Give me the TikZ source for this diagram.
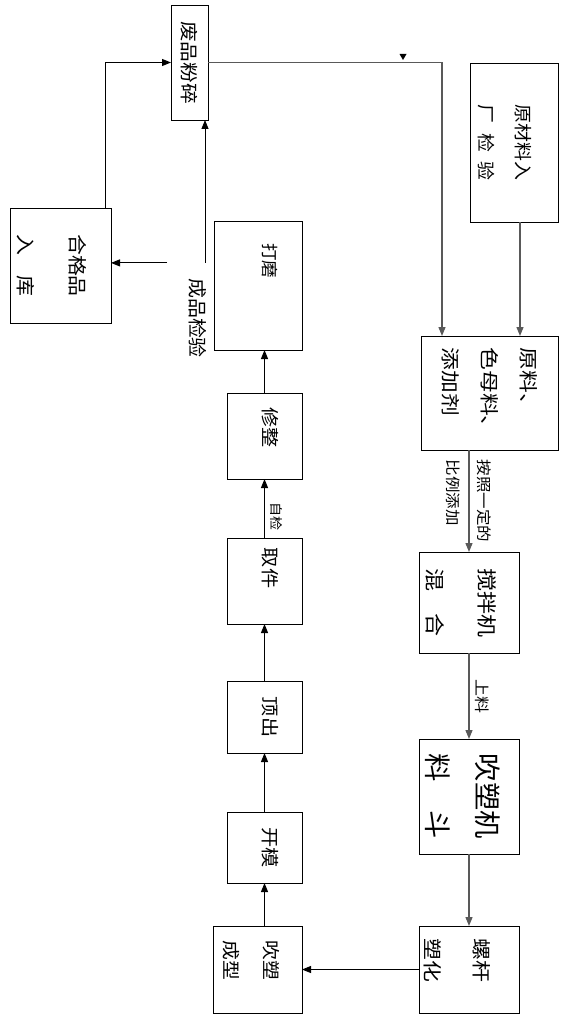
\documentclass[tikz,border=0pt]{standalone}
\usepackage{fontspec}
\usepackage{graphicx}
\usetikzlibrary{positioning,arrows.meta}
\newfontfamily\cjk{Noto Sans CJK SC}
\newcommand{\fs}[2]{\fontsize{#1}{#2}\selectfont}
\newcommand{\vtext}[2][1.1]{\rotatebox{-90}{\scalebox{#1}[1]{\vbox{#2}}}}

\begin{document}
\begin{tikzpicture}[
x=1pt,y=-1pt,
box/.style={rectangle,draw,line width=0.9pt,inner sep=0pt,outer sep=0pt,font=\cjk\fs{18}{24}},
note/.style={inner sep=0pt,font=\cjk\fs{15}{31}},
arrow/.style={-{Triangle[length=9pt,width=7pt]},line width=0.9pt},
feed/.style={arrow,draw=black!65,line width=1.3pt}
]
\useasboundingbox (0,0) rectangle (575,1019);

% left column, from the bottom up
\node[box,minimum width=89pt,minimum height=87pt,font=\cjk\fs{18}{40}] (chuisu) at (257.5,969.5)
  {\vtext{\kern12pt\hbox to 53pt{吹塑\hfil}\hbox{成型}}};
\node[box,minimum width=75pt,minimum height=71pt,above=43pt of chuisu.north east,anchor=south east] (kaimo)
  {\vtext[1.12]{\hbox{开模}\kern11pt}};
\node[box,minimum width=75pt,minimum height=72pt,above=59pt of kaimo.north east,anchor=south east] (dingchu)
  {\vtext[1.12]{\hbox{顶出}\kern11pt}};
\node[box,minimum width=75pt,minimum height=86pt,above=57pt of dingchu.north east,anchor=south east] (qujian)
  {\vtext[1.12]{\hbox to 59pt{取件\hfil}\kern11pt}};
\node[box,minimum width=75pt,minimum height=86pt,above=59pt of qujian.north east,anchor=south east] (xiuzheng)
  {\vtext[1.12]{\hbox to 51pt{修整\hfil}\kern11pt}};
\node[box,minimum width=88pt,minimum height=129pt,font=\cjk\fs{17}{24},above=43pt of xiuzheng.north east,anchor=south east] (damo)
  {\vtext[1.03]{\hbox to 82pt{打磨\hfil}\kern24pt}};

% top left
\node[box,minimum width=37pt,minimum height=115pt] (feipin) at (189.5,62.5) {\vtext[1.15]{\hbox{废品粉碎}}};
\node[box,minimum width=101pt,minimum height=115pt,font=\cjk\fs{19}{52}] (hege) at (60.5,265.5)
  {\vtext{\kern17pt\hbox{合格品}\hbox to 3em{入\hfil 库}}};
\node[note,font=\cjk\fs{19}{24}] (jianyan) at (198,318) {\vtext[1.05]{\hbox{成品检验}}};

% right column
\node[box,minimum width=88pt,minimum height=159pt,font=\cjk\fs{18}{37}] (yuancai) at (514,142.5)
  {\vtext[1.05]{\kern18pt\hbox{原材料入}\hbox to 4em{厂\hfil 检\hfil 验}}};
\node[box,minimum width=137pt,minimum height=114pt,font=\cjk\fs{19}{39},below=114pt of yuancai.south east,anchor=north east] (yuanliao)
  {\vtext[1.2]{\hbox{原料、}\hbox{色母料、}\hbox{添加剂}}};
\node[box,minimum width=100pt,minimum height=101pt,font=\cjk\fs{20}{52},below=102pt of yuanliao.south west,anchor=north west,xshift=-2pt] (jiaoban)
  {\vtext[1.15]{\kern16pt\hbox{搅拌机}\hbox to 3em{混\hfil 合}}};
\node[box,minimum width=100pt,minimum height=115pt,font=\cjk\fs{27}{50},below=86pt of jiaoban.south west,anchor=north west] (liaodou)
  {\vtext[1.05]{\kern12pt\hbox{吹塑机}\hbox to 3em{料\hfil 斗}}};
\node[box,minimum width=100pt,minimum height=87pt,font=\cjk\fs{19}{49},below=72pt of liaodou.south west,anchor=north west] (luogan)
  {\vtext[1.15]{\kern23pt\hbox to 54.5pt{螺杆\hfil}\hbox{塑化}}};

% connectors
\draw[arrow] ([xshift=-6pt]hege.north east) |- (feipin.west);
\draw[feed] (feipin.east) -| ([xshift=21pt]yuanliao.north west);
\fill (399.5,54) -- (406.5,54) -- (403,60) -- cycle;
\draw[feed] ([xshift=6pt]yuancai.south) -- ([xshift=6pt]yuancai.south |- yuanliao.north);
\draw[feed] (yuanliao.south -| jiaoban) -- node[note] (bili) {\vtext{\hbox{按照一定的}\hbox{比例添加}}} (jiaoban);
\draw[feed] (jiaoban) -- node[note,right=6pt] (shangliao) {\vtext[1.13]{\hbox{上料}}} (liaodou);
\draw[feed] (liaodou) -- (luogan);
\draw[arrow] (luogan.west) -- (luogan.west -| chuisu.east);
\draw[arrow] (chuisu.north -| kaimo) -- (kaimo);
\draw[arrow] (kaimo) -- (dingchu);
\draw[arrow] (dingchu) -- (qujian);
\draw[arrow] (qujian) -- node[note,right=5pt,pos=0.37,font=\cjk\fs{13}{24}] (zijian) {\vtext[1.08]{\hbox{自检}}} (xiuzheng);
\draw[arrow] (xiuzheng) -- (xiuzheng |- damo.south);
\coordinate (qcup) at ([shift={(7pt,15pt)}]jianyan.north);
\coordinate (qcleft) at ([xshift=-38pt]qcup);
\draw[arrow] (qcup) -- (qcup |- feipin.south);
\draw[arrow] (qcleft) -- (qcleft -| hege.east);
\end{tikzpicture}
\end{document}
